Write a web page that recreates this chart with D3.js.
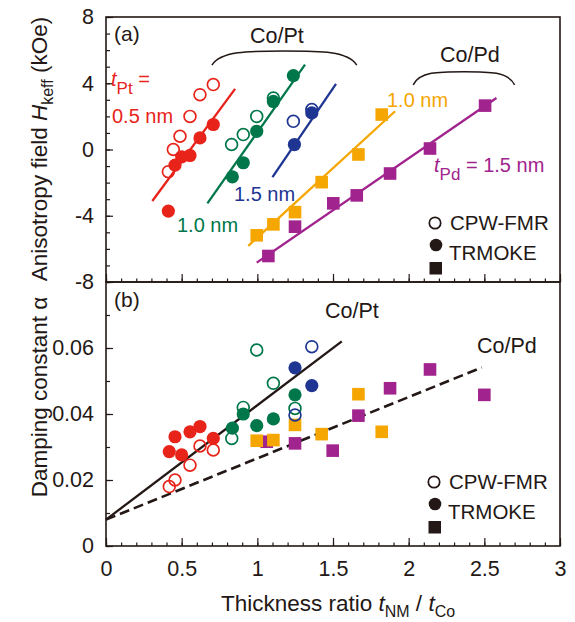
<!DOCTYPE html>
<html>
<head>
<meta charset="utf-8">
<script src="https://cdn.jsdelivr.net/npm/d3@7"></script>
<style>
  body { margin: 0; background: #fff; }
  svg text { font-family: "Liberation Sans", Arial, Helvetica, sans-serif; fill: #231815; }
</style>
</head>
<body>
<svg id="chart" width="575" height="622"></svg>
<script>
// ---- data ----
const xTicks = [0, 0.5, 1, 1.5, 2, 2.5, 3];
const hTicks = [-8, -4, 0, 4, 8];
const aTicks = [0, 0.02, 0.04, 0.06];

// (a) effective anisotropy field, kOe  [t_NM/t_Co, H]
const pt05Fmr = [[0.709, 3.92], [0.621, 3.31], [0.555, 2.0], [0.489, 0.80], [0.445, 0.0], [0.412, -1.34]];
const pt05Mk  = [[0.709, 1.51], [0.621, 0.70], [0.555, -0.36], [0.50, -0.44], [0.456, -0.94], [0.412, -3.72]];
const pt10Fmr = [[0.83, 0.3], [0.907, 0.9], [0.996, 2.0], [1.106, 3.11]];
const pt10Mk  = [[0.835, -1.65], [0.907, -0.8], [0.996, 1.10], [1.106, 2.9], [1.238, 4.46]];
const pt15Fmr = [[1.238, 1.7], [1.36, 2.41]];
const pt15Mk  = [[1.245, 0.3], [1.36, 2.21]];
const pd10H   = [[0.996, -5.18], [1.106, -4.52], [1.249, -3.78], [1.425, -1.97], [1.668, -0.30], [1.822, 2.11]];
const pd15H   = [[1.073, -6.43], [1.249, -4.66], [1.502, -3.25], [1.657, -2.77], [1.877, -1.45], [2.141, 0.06], [2.505, 2.65]];

// fitted lines in (a)
const fitPt05 = [[0.306, -3.11], [0.853, 3.66]];
const fitPt10 = [[0.67, -3.25], [1.315, 5.12]];
const fitPt15 = [[1.10, -1.67], [1.52, 3.96]];
const fitPd10 = [[0.94, -5.82], [1.91, 2.31]];
const fitPd15 = [[0.996, -6.83], [2.58, 3.11]];

// (b) damping constant
const dPt05Mk  = [[0.456, 0.0331], [0.555, 0.0346], [0.621, 0.0362], [0.709, 0.0326], [0.418, 0.0286], [0.50, 0.0276]];
const dPt05Fmr = [[0.621, 0.0303], [0.709, 0.0291], [0.555, 0.0245], [0.456, 0.0200], [0.418, 0.0180]];
const dPt10Fmr = [[0.996, 0.0594], [0.907, 0.0420], [0.831, 0.0326], [1.106, 0.0493], [1.249, 0.0417]];
const dPt10Mk  = [[0.907, 0.0400], [0.835, 0.0357], [0.996, 0.0365], [1.106, 0.0385], [1.249, 0.0458]];
const dPt15Fmr = [[1.36, 0.0604], [1.249, 0.0397]];
const dPt15Mk  = [[1.249, 0.0540], [1.36, 0.0486]];
const dPd10    = [[0.996, 0.0319], [1.106, 0.0321], [1.249, 0.0367], [1.425, 0.0339], [1.668, 0.0460], [1.822, 0.0346]];
const dPd15    = [[1.062, 0.0316], [1.249, 0.0311], [1.498, 0.0289], [1.668, 0.0395], [1.877, 0.0478], [2.141, 0.0535], [2.50, 0.0458]];

const fitDampPt = [[0, 0.008], [1.558, 0.062]];
const fitDampPd = [[0, 0.008], [2.483, 0.0541]];

// ---- colours ----
const ink = "#231815";
const red = "#e8231a", green = "#00774a", blue = "#1e3592", yellow = "#f5a600", purple = "#a1238d";

// ---- scales ----
const left = 106, right = 560;
const x = d3.scaleLinear().domain([0, 3]).range([left, right]);
const ya = d3.scaleLinear().domain([-8, 8]).range([282, 17]);
const yb = d3.scaleLinear().domain([0, 0.08]).range([546, 282]);

const svg = d3.select("#chart");
const line = (ys) => d3.line().x(d => x(d[0])).y(d => ys(d[1]));

function fit(data, ys, color, dash) {
    svg.append("path")
        .attr("d", line(ys)(data))
        .attr("fill", "none")
        .attr("stroke", color)
        .attr("stroke-width", dash ? 2.6 : 2.3)
        .attr("stroke-dasharray", dash ? "10,5" : null);
}

function circles(data, ys, color, open) {
    svg.append("g").selectAll("circle")
        .data(data)
        .enter().append("circle")
        .attr("cx", d => x(d[0]))
        .attr("cy", d => ys(d[1]))
        .attr("r", open ? 5.9 : 6.6)
        .attr("fill", open ? "none" : color)
        .attr("stroke", open ? color : "none")
        .attr("stroke-width", 1.7);
}

function squares(data, ys, color) {
    svg.append("g").selectAll("rect")
        .data(data)
        .enter().append("rect")
        .attr("x", d => x(d[0]) - 6.3)
        .attr("y", d => ys(d[1]) - 6.3)
        .attr("width", 12.6)
        .attr("height", 12.6)
        .attr("fill", color);
}

// ---- axes (inward ticks) ----
function styleAxis(g) {
    g.select(".domain").remove();
    g.selectAll("line").attr("stroke", ink).attr("stroke-width", 1.2);
    g.selectAll("text").attr("font-size", 21.5).attr("fill", ink)
        .attr("font-family", '"Liberation Sans", Arial, sans-serif');
}

// panel (a) bottom ticks
svg.append("g").attr("transform", "translate(0,282)")
    .call(d3.axisTop(x).ticks(30).tickSize(3.5).tickFormat("")).call(styleAxis);
svg.append("g").attr("transform", "translate(0,282)")
    .call(d3.axisTop(x).tickValues(xTicks).tickSize(8).tickFormat("")).call(styleAxis);
// panel (b) bottom ticks + labels
svg.append("g").attr("transform", "translate(0,546)")
    .call(d3.axisBottom(x).ticks(30).tickSize(-3.5).tickFormat("")).call(styleAxis);
svg.append("g").attr("transform", "translate(0,546)")
    .call(d3.axisBottom(x).tickValues(xTicks).tickSize(-8).tickPadding(15).tickFormat(d => String(d)))
    .call(styleAxis);

// panel (a) left
svg.append("g").attr("transform", `translate(${left},0)`)
    .call(d3.axisLeft(ya).ticks(16).tickSize(-4).tickFormat("")).call(styleAxis);
svg.append("g").attr("transform", `translate(${left},0)`)
    .call(d3.axisLeft(ya).tickValues(hTicks).tickSize(-7).tickPadding(12).tickFormat(d => String(d)))
    .call(styleAxis);
// panel (b) left
svg.append("g").attr("transform", `translate(${left},0)`)
    .call(d3.axisLeft(yb).ticks(8).tickSize(-4).tickFormat("")).call(styleAxis);
svg.append("g").attr("transform", `translate(${left},0)`)
    .call(d3.axisLeft(yb).tickValues(aTicks).tickSize(-7).tickPadding(12)
        .tickFormat(d => d === 0 ? "0" : d.toFixed(2)))
    .call(styleAxis);

// frames
[[ya(8), ya(-8)], [yb(0.08), yb(0)]].forEach(([t, b]) => {
    svg.append("rect")
        .attr("x", left).attr("y", t)
        .attr("width", right - left).attr("height", b - t)
        .attr("fill", "none").attr("stroke", ink).attr("stroke-width", 1.6);
});

// ---- panel (a) ----
fit(fitPt05, ya, red);
fit(fitPt10, ya, green);
fit(fitPt15, ya, blue);
fit(fitPd10, ya, yellow);
fit(fitPd15, ya, purple);
circles(pt05Fmr, ya, red, true);
circles(pt05Mk, ya, red, false);
circles(pt10Fmr, ya, green, true);
circles(pt10Mk, ya, green, false);
circles(pt15Fmr, ya, blue, true);
circles(pt15Mk, ya, blue, false);
squares(pd15H, ya, purple);
squares(pd10H, ya, yellow);

// ---- panel (b) ----
fit(fitDampPd, yb, ink, true);
fit(fitDampPt, yb, ink, false);
squares(dPd15, yb, purple);
squares(dPd10, yb, yellow);
circles(dPt05Fmr, yb, red, true);
circles(dPt05Mk, yb, red, false);
circles(dPt10Fmr, yb, green, true);
circles(dPt10Mk, yb, green, false);
circles(dPt15Fmr, yb, blue, true);
circles(dPt15Mk, yb, blue, false);

// ---- labels ----
function label(px, py, str, color, size) {
    return svg.append("text").attr("x", px).attr("y", py)
        .attr("font-size", size || 20).style("fill", color || ink).text(str);
}

label(114, 41, "(a)", ink, 21);
label(114, 307, "(b)", ink, 21);
label(250, 43, "Co/Pt", ink, 21.5);
label(440, 62, "Co/Pd", ink, 21.5);
label(325, 318, "Co/Pt", ink, 21.5);
label(477, 353, "Co/Pd", ink, 21.5);

// subscripted series labels
function subLabel(px, py, base, sub, rest, color) {
    const t = svg.append("text").attr("x", px).attr("y", py).attr("font-size", 20).style("fill", color);
    t.append("tspan").attr("font-style", "italic").text(base);
    t.append("tspan").attr("font-size", 17).attr("dy", 8).text(sub);
    t.append("tspan").attr("dy", -8).text(rest);
}
subLabel(111, 86, "t", "Pt", " =", red);
label(112, 123, "0.5 nm", red);
label(177, 232, "1.0 nm", green);
label(234, 201, "1.5 nm", blue);
label(387, 107, "1.0 nm", yellow);
subLabel(434, 172, "t", "Pd", " = 1.5 nm", purple);

// braces over the Co/Pt and Co/Pd groups
function brace(x0, x1, yEnd, yTop) {
    const p = d3.path();
    const w = x1 - x0;
    p.moveTo(x(x0), ya(yEnd));
    p.bezierCurveTo(x(x0 + w * 0.06), ya(yTop), x(x0 + w * 0.25), ya(yTop), x(x0 + w * 0.5), ya(yTop));
    p.bezierCurveTo(x(x0 + w * 0.75), ya(yTop), x(x0 + w * 0.94), ya(yTop), x(x1), ya(yEnd));
    svg.append("path").attr("d", p.toString())
        .attr("fill", "none").attr("stroke", ink).attr("stroke-width", 1.5);
}
brace(0.70, 1.657, 5.1, 5.95);
brace(2.03, 2.70, 3.9, 4.7);

// legends
function legend(px, py) {
    svg.append("circle").attr("cx", px).attr("cy", py).attr("r", 5.7)
        .attr("fill", "none").attr("stroke", ink).attr("stroke-width", 1.7);
    label(px + 15, py + 7, "CPW-FMR", ink, 20.5);
    svg.append("circle").attr("cx", px + 1).attr("cy", py + 22).attr("r", 6.3).attr("fill", ink);
    label(px + 14, py + 37, "TRMOKE", ink, 20.5);
    svg.append("rect").attr("x", px - 5.5).attr("y", py + 39).attr("width", 12.5).attr("height", 12.5).attr("fill", ink);
}
legend(435, 223);
legend(434, 482);

// axis titles
const xt = svg.append("text").attr("x", 338).attr("y", 611)
    .attr("text-anchor", "middle").attr("font-size", 22.5);
xt.append("tspan").text("Thickness ratio ");
xt.append("tspan").attr("font-style", "italic").text("t");
xt.append("tspan").attr("font-size", 16).attr("dy", 6).text("NM");
xt.append("tspan").attr("dy", -6).text(" / ");
xt.append("tspan").attr("font-style", "italic").text("t");
xt.append("tspan").attr("font-size", 16).attr("dy", 6).text("Co");

const yta = svg.append("text").attr("transform", "translate(47,149) rotate(-90)")
    .attr("text-anchor", "middle").attr("font-size", 22.5);
yta.append("tspan").text("Anisotropy field ");
yta.append("tspan").attr("font-style", "italic").text("H");
yta.append("tspan").attr("font-size", 16).attr("dy", 6).text("keff");
yta.append("tspan").attr("dy", -6).text(" (kOe)");

svg.append("text").attr("transform", "translate(47,397) rotate(-90)")
    .attr("text-anchor", "middle").attr("font-size", 22.5)
    .text("Damping constant α");
</script>
</body>
</html>
